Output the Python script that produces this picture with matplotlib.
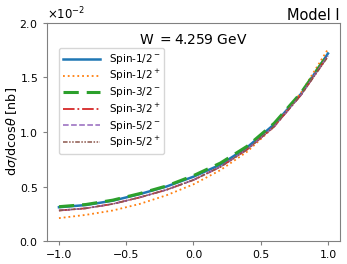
import numpy as np
import matplotlib
matplotlib.use("Agg")
import matplotlib.pyplot as plt

# cos(theta) sample points and read-off cross sections (units of 1e-2 nb)
cos_theta = [-1.0, -0.8, -0.6, -0.4, -0.2, 0.0, 0.2, 0.4, 0.6, 0.8, 1.0]
s12m = [0.31, 0.33, 0.37, 0.43, 0.50, 0.59, 0.70, 0.86, 1.07, 1.35, 1.72]
s12p = [0.21, 0.24, 0.28, 0.34, 0.42, 0.52, 0.65, 0.82, 1.05, 1.36, 1.76]
s32m = [0.315, 0.335, 0.375, 0.435, 0.505, 0.60, 0.715, 0.87, 1.08, 1.36, 1.71]
s32p = [0.28, 0.30, 0.34, 0.40, 0.47, 0.56, 0.68, 0.84, 1.05, 1.34, 1.70]
s52m = [0.28, 0.30, 0.34, 0.40, 0.47, 0.56, 0.68, 0.84, 1.05, 1.34, 1.70]
s52p = [0.28, 0.30, 0.34, 0.40, 0.47, 0.56, 0.68, 0.84, 1.05, 1.34, 1.69]

labels = [r'Spin-1/2$^-$', r'Spin-1/2$^+$', r'Spin-3/2$^-$',
          r'Spin-3/2$^+$', r'Spin-5/2$^-$', r'Spin-5/2$^+$']

fig = plt.figure(figsize=(3.47, 2.64), dpi=100)
ax = fig.add_axes([0.135, 0.087, 0.845, 0.826])

x = np.array(cos_theta)
sc = 1e-2
ax.plot(x, np.array(s12m) * sc, '-', color='C0', lw=1.8, label=labels[0])
ax.plot(x, np.array(s12p) * sc, ':', color='C1', lw=1.3, label=labels[1])
ax.plot(x, np.array(s32m) * sc, color='C2', lw=2.2, ls=(0, (5, 2.6)), label=labels[2])
ax.plot(x, np.array(s32p) * sc, '-.', color='C3', lw=1.3, label=labels[3])
ax.plot(x, np.array(s52m) * sc, '--', color='C4', lw=1.1, label=labels[4])
ax.plot(x, np.array(s52p) * sc, color='C5', lw=1.1, ls=(0, (3, 1, 1, 1, 1, 1)), label=labels[5])

ax.set_xlim(-1.09, 1.09)
ax.set_ylim(0, 0.02)
ax.set_xticks([-1.0, -0.5, 0.0, 0.5, 1.0])
ax.set_yticks([0, 0.005, 0.01, 0.015, 0.02])
ax.ticklabel_format(axis='y', style='sci', scilimits=(-2, -2), useMathText=True)
ax.yaxis.get_offset_text().set_fontsize(8.5)
ax.tick_params(labelsize=7.8, color='gray', length=3)
for s in ax.spines.values():
    s.set_color('gray')

ax.set_ylabel(r'd$\sigma$/dcos$\theta$ [nb]', fontsize=9.2)
ax.yaxis.set_label_coords(-0.095, 0.5)
ax.set_title('Model I', loc='right', fontsize=10.5, pad=2)
ax.text(0.5, 0.92, 'W $=$4.259 GeV', transform=ax.transAxes,
        ha='center', va='center', fontsize=10)

ax.legend(loc='upper left', bbox_to_anchor=(0.04, 0.885), borderaxespad=0,
          fontsize=7.5, handlelength=3.6, labelspacing=0.2, framealpha=0.8)

fig.savefig('out.png', dpi=100)
